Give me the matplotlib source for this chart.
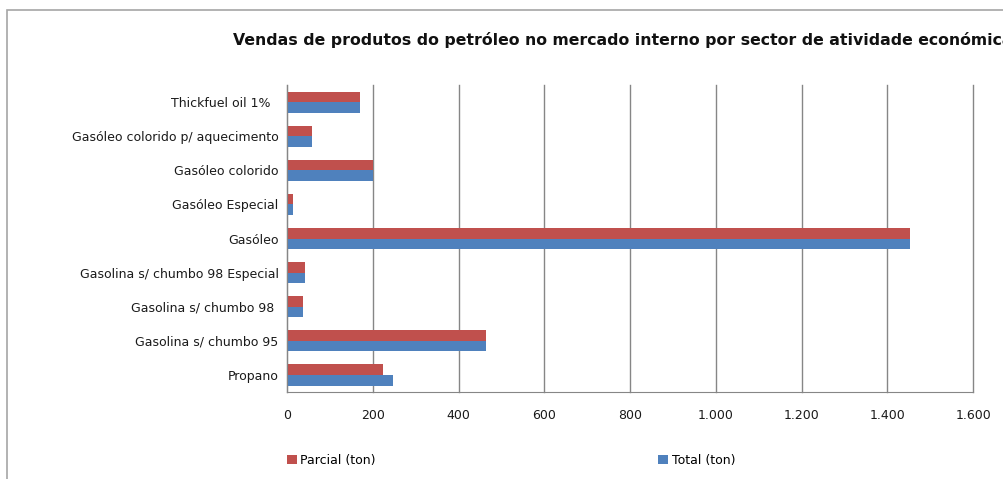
import numpy as np
import matplotlib.pyplot as plt
from matplotlib.patches import Rectangle
from matplotlib.ticker import FuncFormatter

# categories from bottom to top, as drawn
categories = ['Propano', 'Gasolina s/ chumbo 95', 'Gasolina s/ chumbo 98 ',
              'Gasolina s/ chumbo 98 Especial', 'Gasóleo', 'Gasóleo Especial',
              'Gasóleo colorido', 'Gasóleo colorido p/ aquecimento',
              'Thickfuel oil 1%  ']
parcial = [223, 463, 37, 43, 1452, 15, 201, 58, 170]
total = [248, 463, 37, 43, 1452, 15, 201, 58, 170]
xticks = [0, 200, 400, 600, 800, 1000, 1200, 1400, 1600]

title = 'Vendas de produtos do petróleo no mercado interno por sector de atividade económica'

fig = plt.figure(figsize=(10.04, 4.79), dpi=100)
ax = fig.add_axes((0.2859, 0.1816, 0.6833, 0.6409))

ind = np.arange(len(categories))
h = 0.31
ax.barh(ind + h/2, parcial, h, color='#C0504D', label='Parcial (ton)')
ax.barh(ind - h/2, total, h, color='#4F81BD', label='Total (ton)')

ax.set_xlim(0, 1600)
ax.set_ylim(-0.5, len(categories) - 0.5)
ax.set_xticks(xticks)
ax.xaxis.set_major_formatter(FuncFormatter(lambda v, p: '{:,.0f}'.format(v).replace(',', '.')))
ax.set_yticks(ind)
ax.set_yticklabels(categories)
ax.tick_params(length=0, labelsize=9, labelcolor='#1a1a1a')
ax.tick_params(axis='x', pad=12)
ax.tick_params(axis='y', pad=6)

ax.grid(axis='x', color='#868686', lw=1)
for gl in ax.get_xgridlines():
    gl.set_clip_on(False)
ax.set_axisbelow(True)
for s in ['top', 'right']:
    ax.spines[s].set_visible(False)
for s in ['left', 'bottom']:
    ax.spines[s].set_color('#868686')

# title runs past the right edge, as in the original screenshot
fig.text(233/1004, 1 - 40/479, title, fontsize=11.3, fontweight='bold',
         ha='left', va='center', color='#111111')

ax.legend(loc='upper left', bbox_to_anchor=(-0.016, -0.165), ncol=2, frameon=False,
          fontsize=9, handlelength=0.75, handleheight=0.75, handletextpad=0.3,
          columnspacing=22.6)

# outer chart frame (cropped on the right and bottom)
fig.patches.append(Rectangle((0.007, -0.05), 1.1, 0.979 + 0.05, transform=fig.transFigure,
                             fill=False, edgecolor='#a6a6a6', lw=1.2))

fig.savefig('out.png', dpi=100)
